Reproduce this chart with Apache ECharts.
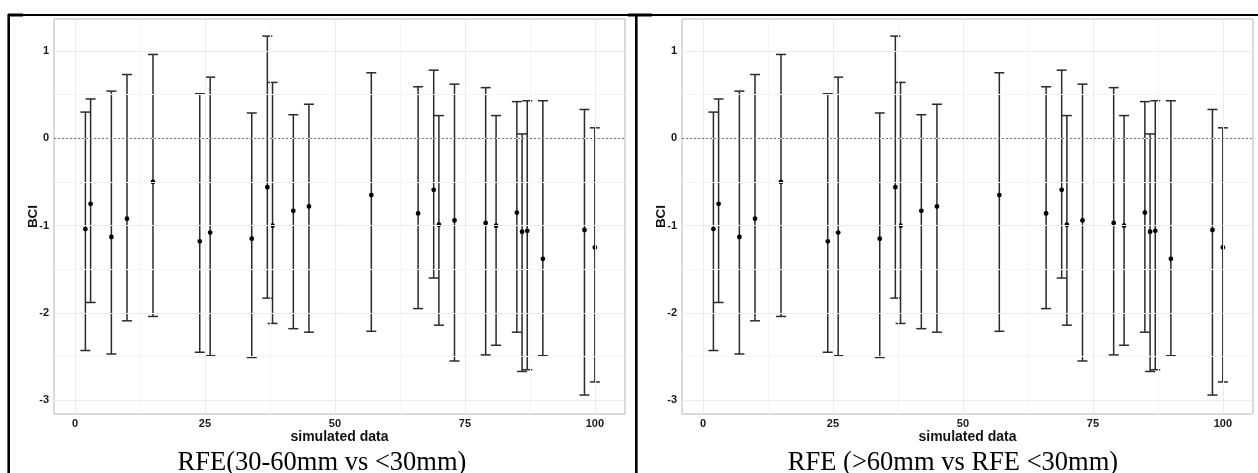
<!DOCTYPE html>
<html><head><meta charset="utf-8">
<script src="https://cdn.jsdelivr.net/npm/echarts@6/dist/echarts.min.js"></script>
<style>html,body{margin:0;padding:0;background:#fff;}#c{width:1258px;height:473px;}</style>
</head><body><div id="c"></div>
<script>
// ---- data (both panels show the same simulated data) ----
const xs  = [2, 3, 7, 10, 15, 24, 26, 34, 37, 38, 42, 45, 57, 66, 69, 70, 73, 79, 81, 85, 86, 87, 90, 98, 100];
const est = [-1.04, -0.75, -1.13, -0.92, -0.50, -1.18, -1.08, -1.15, -0.56, -1.00, -0.83, -0.78, -0.65, -0.86, -0.59, -0.99, -0.94, -0.97, -1.00, -0.85, -1.07, -1.06, -1.38, -1.05, -1.25];
const lo  = [-2.43, -1.88, -2.47, -2.09, -2.04, -2.45, -2.49, -2.51, -1.83, -2.12, -2.18, -2.22, -2.21, -1.95, -1.60, -2.14, -2.55, -2.48, -2.37, -2.22, -2.67, -2.65, -2.49, -2.94, -2.79];
const hi  = [0.30, 0.45, 0.54, 0.73, 0.96, 0.51, 0.70, 0.29, 1.17, 0.64, 0.27, 0.39, 0.75, 0.59, 0.78, 0.26, 0.62, 0.58, 0.26, 0.42, 0.05, 0.43, 0.43, 0.33, 0.12];
const xTicks = [0, 25, 50, 75, 100];
const yTicks = [-3, -2, -1, 0, 1];
const xMinor = [12.5, 37.5, 62.5, 87.5];
const yMinor = [-2.5, -1.5, -0.5, 0.5];
const refLine = 0;
const captions = ['RFE(30-60mm vs <30mm)', 'RFE (>60mm vs RFE <30mm)'];
const xTitle = 'simulated data';
const yTitle = 'BCI';

// ---- layout ----
const panels = [
  {left: 54, capX: 322},
  {left: 682, capX: 953}
];
const PW = 571, PT = 19, PH = 395;
const SANS = 'Liberation Sans, Arial, sans-serif';
const SERIF = 'Liberation Serif, Times New Roman, serif';

const chart = echarts.init(document.getElementById('c'), null, {renderer: 'canvas'});

function renderBar(params, api) {
  const x = api.value(0), l = api.value(1), h = api.value(2), m = api.value(3);
  const a = api.coord([x, l]), b = api.coord([x, h]), c = api.coord([x, m]);
  const cw = 5;
  const st = {stroke: '#2a2a2a', lineWidth: 1.5, fill: null};
  return {type: 'group', children: [
    {type: 'line', shape: {x1: a[0], y1: a[1], x2: b[0], y2: b[1]}, style: st},
    {type: 'line', shape: {x1: a[0] - cw, y1: a[1], x2: a[0] + cw, y2: a[1]}, style: st},
    {type: 'line', shape: {x1: b[0] - cw, y1: b[1], x2: b[0] + cw, y2: b[1]}, style: st},
    {type: 'circle', shape: {cx: c[0], cy: c[1], r: 2.4}, style: {fill: '#000', stroke: null}, z2: 10}
  ]};
}

const grids = [], xAxes = [], yAxes = [], series = [];
panels.forEach((p, i) => {
  grids.push({left: p.left, top: PT, width: PW, height: PH, show: true,
    borderColor: '#b5b5b5', borderWidth: 1, backgroundColor: 'transparent', containLabel: false});
  xAxes.push({type: 'value', gridIndex: i, min: -4.04, max: 105.8,
    splitLine: {show: false}, axisLine: {show: false}, axisTick: {show: false},
    axisLabel: {customValues: xTicks, fontFamily: SANS, fontWeight: 'bold', fontSize: 11, color: '#1a1a1a', margin: 4},
    name: xTitle, nameLocation: 'middle', nameGap: 16, nameMoveOverlap: false,
    nameTextStyle: {fontFamily: SANS, fontWeight: 'bold', fontSize: 14, color: '#111'}});
  yAxes.push({type: 'value', gridIndex: i, min: -3.157, max: 1.366,
    splitLine: {show: false}, axisLine: {show: false}, axisTick: {show: false},
    axisLabel: {customValues: yTicks, fontFamily: SANS, fontWeight: 'bold', fontSize: 11, color: '#1a1a1a', margin: 5},
    name: yTitle, nameLocation: 'middle', nameGap: 14, nameRotate: 90, nameMoveOverlap: false,
    nameTextStyle: {fontFamily: SANS, fontWeight: 'bold', fontSize: 13.5, color: '#111'}});
  const gl = [];
  xMinor.forEach(v => gl.push({xAxis: v, lineStyle: {color: '#f5f5f5', width: 1, type: 'solid'}}));
  yMinor.forEach(v => gl.push({yAxis: v, lineStyle: {color: '#f5f5f5', width: 1, type: 'solid'}}));
  xTicks.forEach(v => gl.push({xAxis: v, lineStyle: {color: '#ebebeb', width: 1, type: 'solid'}}));
  yTicks.forEach(v => gl.push({yAxis: v, lineStyle: {color: '#ebebeb', width: 1, type: 'solid'}}));
  series.push({type: 'scatter', xAxisIndex: i, yAxisIndex: i, data: [], z: 1, silent: true,
    markLine: {silent: true, symbol: ['none', 'none'], label: {show: false}, animation: false, data: gl}});
  series.push({type: 'scatter', xAxisIndex: i, yAxisIndex: i, data: [], z: 2, silent: true,
    markLine: {silent: true, symbol: ['none', 'none'], label: {show: false}, animation: false,
      data: [{yAxis: refLine, lineStyle: {color: '#777', width: 1, type: [2, 2]}}]}});
  series.push({type: 'custom', xAxisIndex: i, yAxisIndex: i, z: 3, silent: true,
    renderItem: renderBar, encode: {x: 0, y: [1, 2, 3]},
    data: xs.map((x, k) => [x, lo[k], hi[k], est[k]])});
});

const graphic = [
  {type: 'line', shape: {x1: 8, y1: 15, x2: 1258, y2: 15}, style: {stroke: '#000', lineWidth: 2}},
  {type: 'line', shape: {x1: 8, y1: 15, x2: 23, y2: 15}, style: {stroke: '#000', lineWidth: 3}},
  {type: 'line', shape: {x1: 628, y1: 15, x2: 652, y2: 15}, style: {stroke: '#000', lineWidth: 3}},
  {type: 'line', shape: {x1: 8.7, y1: 14, x2: 8.7, y2: 473}, style: {stroke: '#000', lineWidth: 2.6}},
  {type: 'line', shape: {x1: 636.3, y1: 14, x2: 636.3, y2: 473}, style: {stroke: '#000', lineWidth: 2.6}}
];
panels.forEach((p, i) => {
  graphic.push({type: 'text', x: p.capX, y: 463,
    style: {text: captions[i], font: '26.5px ' + SERIF, fill: '#000', textAlign: 'center', textVerticalAlign: 'middle'}});
});

chart.setOption({
  animation: false,
  backgroundColor: '#fff',
  grid: grids, xAxis: xAxes, yAxis: yAxes, series: series, graphic: graphic
});
</script></body></html>
